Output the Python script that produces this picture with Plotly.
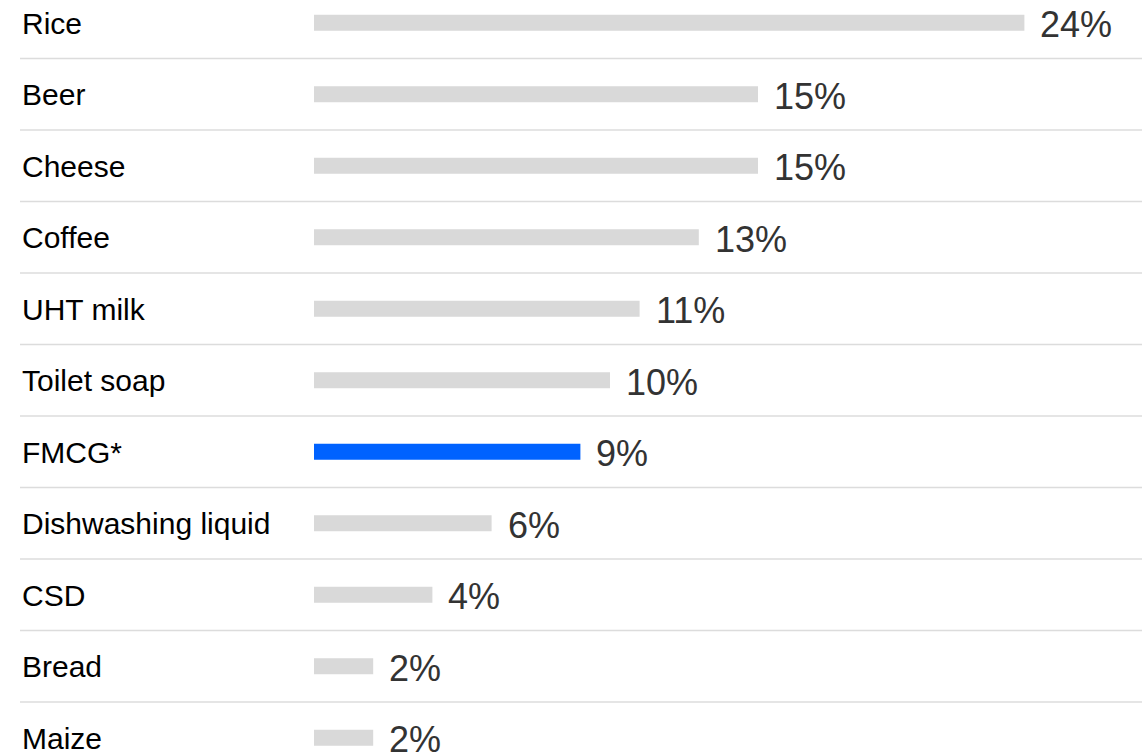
import plotly.graph_objects as go

categories = ["Rice", "Beer", "Cheese", "Coffee", "UHT milk", "Toilet soap",
              "FMCG*", "Dishwashing liquid", "CSD", "Bread", "Maize"]
values = [24, 15, 15, 13, 11, 10, 9, 6, 4, 2, 2]
value_labels = ["24%", "15%", "15%", "13%", "11%", "10%", "9%", "6%", "4%", "2%", "2%"]
highlight = "FMCG*"

W, H = 1142, 753
px_per_unit = 29.6
bar_start_px = 314
row_pitch = 71.5
first_center_px = 22.75

pos = list(range(len(categories)))
colors = ["#0062ff" if c == highlight else "#d9d9d9" for c in categories]

fig = go.Figure()
fig.add_trace(go.Bar(
    x=values, y=pos, orientation="h",
    marker=dict(color=colors, line=dict(width=0)),
    width=16 / row_pitch,
    hoverinfo="skip",
))

# gridlines between rows
for k in range(len(categories) - 1):
    fig.add_shape(type="line", xref="paper", yref="y",
                  x0=20 / W, x1=1, y0=k + 0.5, y1=k + 0.5,
                  line=dict(color="#dcdcdc", width=1.5), layer="below")

for i, (c, v, t) in enumerate(zip(categories, values, value_labels)):
    fig.add_annotation(x=20 / W, xref="paper", y=i + 0.01, yref="y", text=c,
                       showarrow=False, xanchor="left", yanchor="middle",
                       font=dict(family="Liberation Sans, Arial", size=30, color="#000000"))
    fig.add_annotation(x=v, y=i + 0.03, text=t, showarrow=False,
                       xanchor="left", yanchor="middle", xshift=14,
                       font=dict(family="Liberation Sans, Arial", size=36, color="#333333"))

x0 = -bar_start_px / px_per_unit
x1 = (W - bar_start_px) / px_per_unit
y_top = -first_center_px / row_pitch
y_bot = (H - first_center_px) / row_pitch

fig.update_layout(
    width=W, height=H,
    margin=dict(l=0, r=0, t=0, b=0),
    paper_bgcolor="white", plot_bgcolor="white",
    showlegend=False,
    xaxis=dict(range=[x0, x1], visible=False, fixedrange=True),
    yaxis=dict(range=[y_bot, y_top], visible=False, fixedrange=True),
)

fig.write_html("out.html")
